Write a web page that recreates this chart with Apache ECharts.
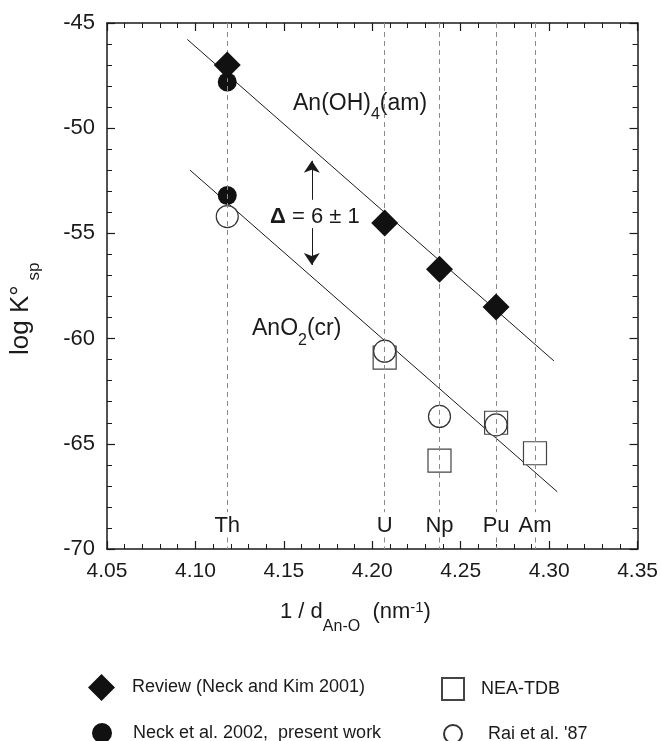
<!DOCTYPE html>
<html>
<head>
<meta charset="utf-8">
<script src="https://cdn.jsdelivr.net/npm/echarts@6/dist/echarts.min.js"></script>
<style>
  html, body { margin: 0; padding: 0; background: #fff; }
  #chart { width: 661px; height: 741px; }
</style>
</head>
<body>
<div id="chart"></div>
<script>
  // data
  var elements = ['Th', 'U', 'Np', 'Pu', 'Am'];
  var elementX = [4.118, 4.207, 4.238, 4.270, 4.292];

  var review = [[4.118, -47.0], [4.207, -54.5], [4.238, -56.7], [4.270, -58.5]];
  var neck = [[4.118, -47.8], [4.118, -53.2]];
  var neaTdb = [[4.207, -60.9], [4.238, -65.8], [4.270, -64.0], [4.292, -65.45]];
  var rai = [[4.118, -54.2], [4.207, -60.6], [4.238, -63.7], [4.270, -64.1]];

  // regression lines (end points)
  var ohLine = [[4.0954, -45.78], [4.3027, -61.06]];
  var o2Line = [[4.0969, -51.99], [4.3046, -67.28]];

  // delta arrow
  var arrowX = 4.1658;
  var arrowUp = [-53.4, -51.55];
  var arrowDown = [-54.75, -56.5];

  var xTicks = { min: 4.05, max: 4.35, interval: 0.05 };
  var yTicks = { min: -70, max: -45, interval: 5 };

  var FONT = 'Liberation Sans';
  var INK = '#1a1a1a';

  var ctx = document.createElement('canvas').getContext('2d');
  function textWidth(t, size, weight) {
    ctx.font = (weight || 'normal') + ' ' + size + 'px "' + FONT + '"';
    return ctx.measureText(t).width;
  }

  // pieces: [text, size, baseline shift, weight]
  function richGroup(x, y, pieces, rotation) {
    var cx = 0, kids = [];
    pieces.forEach(function (p) {
      kids.push({
        type: 'text',
        x: cx,
        y: p[2] - 0.35 * p[1],
        style: {
          text: p[0], fontSize: p[1], fontFamily: FONT,
          fontWeight: p[3] || 'normal', fill: INK,
          align: 'left', verticalAlign: 'middle'
        }
      });
      cx += textWidth(p[0], p[1], p[3]);
    });
    return { type: 'group', x: x, y: y, rotation: rotation || 0, children: kids, silent: true };
  }

  var chart = echarts.init(document.getElementById('chart'));

  function xAxisDef(pos, showLabel) {
    return {
      type: 'value', position: pos,
      min: xTicks.min, max: xTicks.max, interval: xTicks.interval,
      axisLine: { onZero: false, lineStyle: { color: INK, width: 1.5 } },
      axisTick: { inside: true, length: 8, lineStyle: { color: INK, width: 1.2 } },
      minorTick: { show: true, splitNumber: 5, length: 5, lineStyle: { color: INK, width: 1 } },
      splitLine: { show: false },
      axisLabel: {
        show: showLabel, fontSize: 21, color: INK, margin: 12, fontFamily: FONT,
        formatter: function (v) { return v.toFixed(2); }
      }
    };
  }
  function yAxisDef(pos, showLabel) {
    return {
      type: 'value', position: pos,
      min: yTicks.min, max: yTicks.max, interval: yTicks.interval,
      axisLine: { onZero: false, lineStyle: { color: INK, width: 1.5 } },
      axisTick: { inside: true, length: 8, lineStyle: { color: INK, width: 1.2 } },
      minorTick: { show: true, splitNumber: 5, length: 5, lineStyle: { color: INK, width: 1 } },
      splitLine: { show: false },
      axisLabel: { show: showLabel, fontSize: 22, color: INK, margin: 12, fontFamily: FONT }
    };
  }

  var dashedLines = [];
  elementX.forEach(function (x) {
    dashedLines.push([{ coord: [x, -45] }, { coord: [x, -68.25] }]);
    dashedLines.push([{ coord: [x, -69.45] }, { coord: [x, -70] }]);
  });

  var option = {
    animation: false,
    textStyle: { fontFamily: FONT, color: INK },
    grid: { left: 107, right: 23, top: 23, bottom: 192 },
    xAxis: [xAxisDef('bottom', true), xAxisDef('top', false)],
    yAxis: [yAxisDef('left', true), yAxisDef('right', false)],
    legend: [
      { data: ['Review (Neck and Kim 2001)'], left: 88, top: 674, itemWidth: 27, itemHeight: 27 },
      { data: ['Neck et al. 2002,  present work'], left: 92, top: 723, itemWidth: 20, itemHeight: 20 },
      { data: ['NEA-TDB'], left: 441, top: 677, itemWidth: 22, itemHeight: 22 },
      { data: ['Rai et al. \'87'], left: 443, top: 724, itemWidth: 18, itemHeight: 18 }
    ].map(function (l, i) {
      var pads = [12, 16, 12, 21];
      return Object.assign(l, {
        orient: 'horizontal', padding: 0, selectedMode: false,
        textStyle: { fontSize: 18, color: INK, fontFamily: FONT, padding: [0, 0, 0, pads[i]] }
      });
    }),
    series: [
      {
        name: 'guides', type: 'scatter', data: [], silent: true,
        markLine: {
          silent: true, symbol: 'none', animation: false,
          label: { show: false },
          lineStyle: { color: '#8a8a8a', width: 1, type: [5, 4] },
          data: dashedLines
        }
      },
      {
        name: 'AnO2 fit', type: 'line', data: o2Line, symbol: 'none', silent: true,
        lineStyle: { color: INK, width: 1 }, z: 1
      },
      {
        name: 'AnOH4 fit', type: 'line', data: ohLine, symbol: 'none', silent: true,
        lineStyle: { color: INK, width: 1 }, z: 1
      },
      {
        name: 'arrows', type: 'scatter', data: [], silent: true,
        markLine: {
          silent: true, symbol: ['none', 'arrow'], symbolSize: 12, animation: false,
          label: { show: false },
          itemStyle: { color: INK },
          lineStyle: { color: INK, width: 1, type: 'solid' },
          data: [
            [{ coord: [arrowX, arrowUp[0]] }, { coord: [arrowX, arrowUp[1]] }],
            [{ coord: [arrowX, arrowDown[0]] }, { coord: [arrowX, arrowDown[1]] }]
          ]
        }
      },
      {
        name: 'labels', type: 'scatter', symbolSize: 0, silent: true,
        itemStyle: { opacity: 1, color: INK },
        data: elementX.map(function (x) { return [x, -68.9]; }),
        label: {
          show: true, position: 'inside', fontSize: 22, color: INK, fontFamily: FONT,
          formatter: function (p) { return elements[p.dataIndex]; }
        }
      },
      {
        name: 'NEA-TDB', type: 'scatter', data: neaTdb, symbol: 'rect', symbolSize: 23, z: 3,
        itemStyle: { color: '#fff', borderColor: '#444', borderWidth: 1.2, opacity: 1 }
      },
      {
        name: 'Rai et al. \'87', type: 'scatter', data: rai, symbol: 'circle', symbolSize: 22, z: 4,
        itemStyle: { color: '#fff', borderColor: '#333', borderWidth: 1.2, opacity: 1 }
      },
      {
        name: 'Neck et al. 2002,  present work', type: 'scatter', data: neck, symbol: 'circle',
        symbolSize: 19, z: 4, itemStyle: { color: '#111', opacity: 1 }
      },
      {
        name: 'Review (Neck and Kim 2001)', type: 'scatter', data: review, symbol: 'diamond',
        symbolSize: 27, z: 5, itemStyle: { color: '#111', opacity: 1 }
      }
    ],
    graphic: [
      richGroup(293, 112, [['An(OH)', 23, 0], ['4', 16, 8], ['(am)', 23, 0]]),
      richGroup(252, 337, [['AnO', 23, 0], ['2', 16, 9], ['(cr)', 23, 0]]),
      richGroup(270, 225, [['\u0394', 22, 0, 'bold'], [' = 6 \u00b1 1', 22, 0]]),
      richGroup(280, 620, [['1 / d', 22, 0], ['An-O', 16, 12], ['  (nm', 22, 0], ['-1', 15, -7], [')', 22, 0]]),
      richGroup(30, 355, [['log K\u00b0', 26, 0], [' sp', 17, 10]], Math.PI / 2)
    ]
  };

  chart.setOption(option);
</script>
</body>
</html>
